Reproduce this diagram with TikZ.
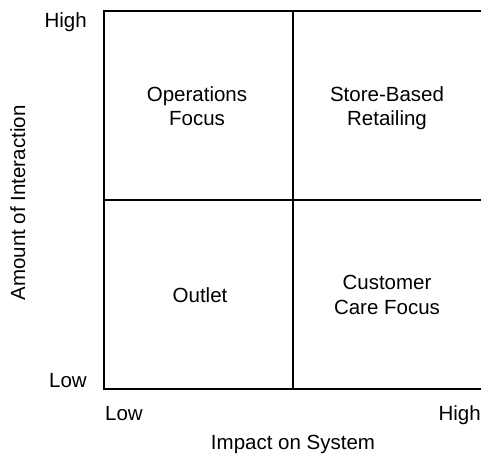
\documentclass[tikz,border=0pt]{standalone}
\usepackage{fontspec}
\setmainfont{Liberation Sans}
\begin{document}
\begin{tikzpicture}[x=1pt,y=-1pt,
  lbl/.style={font=\fontsize{20.5}{24.5}\selectfont, inner sep=0pt},
  quad/.style={lbl, align=center, anchor=base},
  grid/.style={line width=1.2pt, black}]
\useasboundingbox (0,0) rectangle (481,454);
\coordinate (tl) at (104,11);
\coordinate (br) at (482,389);
\coordinate (mt) at (293,11);
\coordinate (mb) at (293,389);
\coordinate (ml) at (104,200);
\coordinate (mr) at (482,200);
\draw[grid] (tl) rectangle (br);
\draw[grid] (mt) -- (mb);
\draw[grid] (ml) -- (mr);
\node[quad] (ops) at (197,126) {Operations\\Focus};
\node[quad] (sbr) at (387,126) {Store-Based\\Retailing};
\node[quad] (out) at (200,302) {Outlet};
\node[quad] (ccf) at (387,314) {Customer\\Care Focus};
\node[lbl, anchor=base east] (yhigh) at (87,28) {High};
\node[lbl, anchor=base east] (ylow) at (87,387) {Low};
\node[lbl, anchor=base west] (xlow) at (105,420) {Low};
\node[lbl, anchor=base east] (xhigh) at (481,420) {High};
\node[lbl, anchor=base] (xt) at (293,449) {Impact on System};
\node[lbl, rotate=90, anchor=base] (yt) at (25,203) {Amount of Interaction};
\end{tikzpicture}
\end{document}
